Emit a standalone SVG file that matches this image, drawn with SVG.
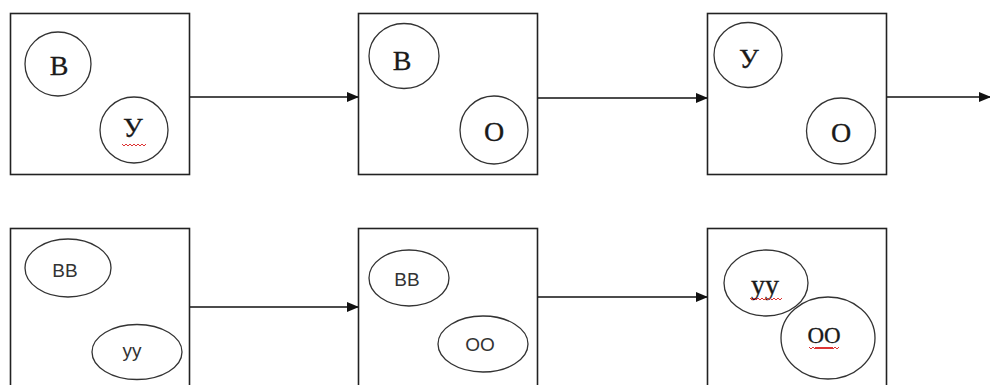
<svg xmlns="http://www.w3.org/2000/svg" width="990" height="385" viewBox="0 0 990 385">
<defs>
<marker id="ah" markerWidth="12" markerHeight="10" refX="11" refY="5" orient="auto" markerUnits="userSpaceOnUse">
<path d="M0,0 L12,5 L0,10 Z" fill="#111"/>
</marker>
<path id="sq" d="M0,0 l2,2 l2,-2 l2,2 l2,-2 l2,2 l2,-2 l2,2 l2,-2 l2,2 l2,-2 l2,2 l2,-2"/>
</defs>
<style>
.box{fill:#fff;stroke:#222;stroke-width:1.6}
.el{fill:#fff;stroke:#333;stroke-width:1.3}
.ser{font-family:"Liberation Serif","DejaVu Serif",serif;fill:#1a1a1a;text-anchor:middle;stroke:#1a1a1a;stroke-width:0.3}
.san{font-family:"Liberation Sans","DejaVu Sans",sans-serif;fill:#333;text-anchor:middle;font-size:19px}
.con{stroke:#111;stroke-width:1.5;fill:none;marker-end:url(#ah)}
.squig{fill:none;stroke:#d33;stroke-width:1}
</style>
<rect width="990" height="385" fill="#fff"/>
<g id="connectors">
<line class="con" x1="189" y1="97" x2="358" y2="97"/>
<line class="con" x1="537" y1="98" x2="707" y2="98"/>
<line class="con" x1="886" y1="97" x2="990" y2="97"/>
<line class="con" x1="189" y1="307" x2="358" y2="307"/>
<line class="con" x1="537" y1="297" x2="707" y2="297"/>
</g>
<g id="top1">
<rect class="box" x="10.5" y="13.5" width="179" height="161"/>
<ellipse class="el" cx="58" cy="64" rx="33" ry="32"/>
<text class="ser" x="59" y="75" font-size="28">В</text>
<ellipse class="el" cx="134" cy="130" rx="34" ry="33"/>
<text class="ser" x="133" y="137" font-size="28">У</text>
<use href="#sq" class="squig" x="122" y="144"/>
</g>
<g id="top2">
<rect class="box" x="358.5" y="13.5" width="179" height="161"/>
<ellipse class="el" cx="404" cy="56" rx="35" ry="32.5"/>
<text class="ser" x="402" y="70" font-size="28">В</text>
<ellipse class="el" cx="494" cy="130" rx="34" ry="34"/>
<text class="ser" x="494" y="141" font-size="28">О</text>
</g>
<g id="top3">
<rect class="box" x="707.5" y="13.5" width="179" height="161"/>
<ellipse class="el" cx="748" cy="55" rx="34" ry="32.5"/>
<text class="ser" x="749" y="68" font-size="28">У</text>
<ellipse class="el" cx="841" cy="131" rx="34.5" ry="33"/>
<text class="ser" x="841" y="142" font-size="28">О</text>
</g>
<g id="bot1">
<rect class="box" x="10.5" y="228.5" width="179" height="170"/>
<ellipse class="el" cx="68" cy="268" rx="43" ry="29"/>
<text class="san" x="65" y="277">ВВ</text>
<ellipse class="el" cx="137" cy="352" rx="45" ry="27.5"/>
<text class="san" x="132" y="357">уу</text>
</g>
<g id="bot2">
<rect class="box" x="358.5" y="228.5" width="179" height="170"/>
<ellipse class="el" cx="409" cy="278" rx="40" ry="28"/>
<text class="san" x="407" y="286">ВВ</text>
<ellipse class="el" cx="483" cy="344" rx="45" ry="28"/>
<text class="san" x="480" y="351">ОО</text>
</g>
<g id="bot3">
<rect class="box" x="707.5" y="228.5" width="179" height="170"/>
<ellipse class="el" cx="766" cy="283" rx="42" ry="33"/>
<text class="ser" x="765" y="294" font-size="28">уу</text>
<use href="#sq" class="squig" x="750" y="298"/>
<use href="#sq" class="squig" x="758" y="298"/>
<ellipse class="el" cx="828" cy="338" rx="47" ry="41"/>
<text class="ser" x="824" y="343" font-size="23">ОО</text>
<use href="#sq" class="squig" x="809" y="347"/>
<use href="#sq" class="squig" x="815" y="347"/>
</g>
</svg>
